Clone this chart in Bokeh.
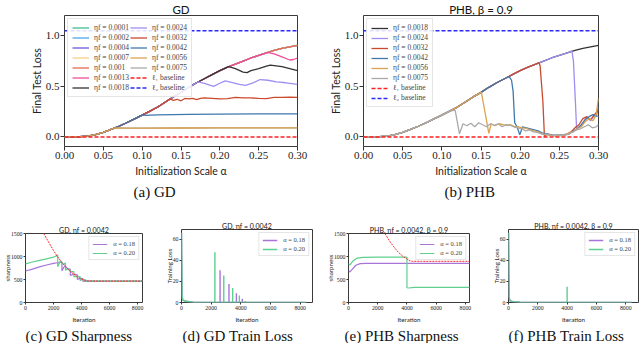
from bokeh.plotting import figure
from bokeh.layouts import column, row
from bokeh.models import Title, Legend, LegendItem, NumeralTickFormatter, Range1d, Spacer
from bokeh.embed import file_html
from bokeh.resources import INLINE

SERIF = "Liberation Serif"
SANS = "Lato"

# ---------------- data: final test loss vs initialization scale ----------------
env_alpha = [0.00, 0.01, 0.02, 0.03, 0.04, 0.05, 0.06, 0.07, 0.08, 0.09, 0.10,
             0.11, 0.12, 0.13, 0.14, 0.15, 0.16, 0.17, 0.18, 0.19, 0.20,
             0.21, 0.22, 0.23, 0.24, 0.25, 0.26, 0.27, 0.28, 0.29, 0.30]
env_loss = [0.0, 0.0, 0.002, 0.008, 0.022, 0.045, 0.075, 0.105, 0.14, 0.178, 0.215,
            0.255, 0.295, 0.345, 0.395, 0.44, 0.49, 0.535, 0.575, 0.615, 0.655,
            0.69, 0.72, 0.75, 0.78, 0.805, 0.83, 0.855, 0.875, 0.89, 0.905]

l1_baseline = 0.0
l2_baseline = 1.05

gd_etas = ["0.0001", "0.0002", "0.0004", "0.0007", "0.001", "0.0013",
           "0.0018", "0.0024", "0.0032", "0.0042", "0.0056", "0.0075"]
gd_tail_alpha = {
    "0.0013": [0.261, 0.27, 0.28, 0.29, 0.295, 0.30],
    "0.0018": [0.2115, 0.22, 0.23, 0.235, 0.24, 0.25, 0.26, 0.265, 0.27, 0.28, 0.29, 0.30],
    "0.0024": [0.172, 0.18, 0.192, 0.20, 0.207, 0.215, 0.225, 0.233, 0.243, 0.252, 0.262, 0.273, 0.285, 0.30],
    "0.0032": [0.1365, 0.14, 0.145, 0.15, 0.155, 0.16, 0.165, 0.17, 0.175, 0.18, 0.19, 0.20,
               0.21, 0.22, 0.23, 0.24, 0.25, 0.26, 0.27, 0.28, 0.29, 0.30],
    "0.0042": [0.101, 0.105, 0.11, 0.12, 0.14, 0.16, 0.20, 0.25, 0.30],
    "0.0056": [0.065, 0.08, 0.10, 0.15, 0.20, 0.25, 0.30],
    "0.0075": [0.065, 0.08, 0.10, 0.15, 0.20, 0.25, 0.30],
}
gd_tail_loss = {
    "0.0013": [0.835, 0.82, 0.79, 0.76, 0.765, 0.78],
    "0.0018": [0.695, 0.675, 0.64, 0.635, 0.655, 0.675, 0.70, 0.71, 0.705, 0.695, 0.675, 0.655],
    "0.0024": [0.545, 0.53, 0.50, 0.53, 0.554, 0.54, 0.52, 0.51, 0.535, 0.567, 0.56, 0.543, 0.535, 0.52],
    "0.0032": [0.378, 0.36, 0.372, 0.357, 0.38, 0.375, 0.38, 0.368, 0.38, 0.385, 0.38, 0.375,
               0.378, 0.39, 0.385, 0.385, 0.38, 0.378, 0.39, 0.39, 0.393, 0.39],
    "0.0042": [0.218, 0.212, 0.215, 0.217, 0.22, 0.223, 0.226, 0.228, 0.228],
    "0.0056": [0.088, 0.086, 0.087, 0.088, 0.089, 0.09, 0.09],
    "0.0075": [0.088, 0.086, 0.087, 0.088, 0.089, 0.09, 0.09],
}
eta_colors = {
    "0.0001": "#3dbd8f", "0.0002": "#4ea6e6", "0.0004": "#6e55e0", "0.0007": "#f7cf86",
    "0.001": "#e4694e", "0.0013": "#ee4f9b", "0.0018": "#333333", "0.0024": "#a08df0",
    "0.0032": "#cc4a2c", "0.0042": "#3e78ac", "0.0056": "#dca24f", "0.0075": "#aaaaaa",
}

phb_etas = ["0.0018", "0.0024", "0.0032", "0.0042", "0.0056", "0.0075"]
phb_tail_alpha = {
    "0.0018": [],
    "0.0024": [0.266, 0.268, 0.2705, 0.272, 0.276, 0.28, 0.285, 0.29, 0.295, 0.30],
    "0.0032": [0.224, 0.2255, 0.229, 0.231, 0.235, 0.24, 0.245, 0.25, 0.255, 0.26, 0.265,
               0.27, 0.275, 0.28, 0.285, 0.29, 0.295, 0.30],
    "0.0042": [0.186, 0.189, 0.191, 0.193, 0.196, 0.1995, 0.203, 0.208, 0.213, 0.218, 0.223,
               0.228, 0.233, 0.238, 0.243, 0.248, 0.253, 0.258, 0.263, 0.268, 0.273, 0.278,
               0.283, 0.288, 0.293, 0.297, 0.30],
    "0.0056": [0.1505, 0.155, 0.16, 0.163, 0.168, 0.173, 0.178, 0.183, 0.188, 0.193, 0.198,
               0.203, 0.208, 0.213, 0.218, 0.223, 0.228, 0.233, 0.238, 0.243, 0.248, 0.253,
               0.258, 0.263, 0.268, 0.273, 0.278, 0.283, 0.288, 0.293, 0.297, 0.30],
    "0.0075": [0.117, 0.1225, 0.127, 0.132, 0.137, 0.142, 0.147, 0.152, 0.157, 0.162, 0.167,
               0.172, 0.177, 0.182, 0.187, 0.192, 0.197, 0.202, 0.207, 0.212, 0.217, 0.222,
               0.227, 0.232, 0.237, 0.242, 0.247, 0.252, 0.257, 0.262, 0.267, 0.272, 0.277,
               0.282, 0.287, 0.292, 0.297, 0.30],
}
phb_tail_loss = {
    "0.0018": [],
    "0.0024": [0.85, 0.75, 0.35, 0.08, 0.10, 0.13, 0.20, 0.16, 0.22, 0.20],
    "0.0032": [0.735, 0.70, 0.35, 0.0, 0.03, 0.02, 0.01, 0.015, 0.02, 0.03, 0.05,
               0.09, 0.12, 0.18, 0.20, 0.17, 0.22, 0.27],
    "0.0042": [0.595, 0.56, 0.45, 0.14, 0.10, 0.02, 0.10, 0.09, 0.08, 0.07, 0.06,
               0.04, 0.03, 0.02, 0.015, 0.02, 0.015, 0.02, 0.03, 0.06, 0.08, 0.12,
               0.17, 0.20, 0.22, 0.20, 0.30],
    "0.0056": [0.44, 0.25, 0.035, 0.13, 0.11, 0.13, 0.12, 0.115, 0.12, 0.10, 0.10,
               0.09, 0.085, 0.07, 0.06, 0.05, 0.03, 0.02, 0.015, 0.01, 0.015, 0.01,
               0.02, 0.04, 0.05, 0.08, 0.10, 0.15, 0.18, 0.16, 0.22, 0.38],
    "0.0075": [0.265, 0.03, 0.13, 0.11, 0.135, 0.10, 0.14, 0.12, 0.10, 0.13, 0.115,
               0.13, 0.10, 0.12, 0.115, 0.10, 0.09, 0.08, 0.06, 0.07, 0.05, 0.045,
               0.03, 0.025, 0.02, 0.015, 0.02, 0.015, 0.02, 0.03, 0.05, 0.07, 0.08,
               0.10, 0.12, 0.09, 0.10, 0.12],
}

alpha_ticks = [0.0, 0.05, 0.10, 0.15, 0.20, 0.25, 0.30]
loss_ticks = [0.0, 0.5, 1.0]

# ---------------- data: sharpness / training loss vs iteration ----------------
iter_ticks = [0, 2000, 4000, 6000, 8000]
sharp_ticks = [0, 500, 1000, 1500]
train_ticks = [0, 20, 40, 60]
a_labels = ["α = 0.18", "α = 0.20"]
a_colors = ["#a874d8", "#5fcf8f"]

gd_sharp_red_iter = [1300, 1600, 2000, 2300, 2600, 2850, 3200, 3450, 3700, 3900, 4100, 4300,
                     4500, 5000, 6000, 7000, 8350]
gd_sharp_red = [1500, 1340, 1130, 990, 870, 785, 675, 615, 560, 525, 495, 475,
                466, 465, 465, 465, 465]
gd_sharp_a18_iter = [0, 500, 1000, 1500, 2000, 2400, 2600, 2600, 2800, 3000, 3200, 3200,
                     3450, 3700, 3700, 3900, 4100, 4100, 4300, 5000, 6000, 7000, 8350]
gd_sharp_a18 = [685, 725, 775, 815, 850, 870, 880, 690, 800, 735, 720, 590,
                615, 600, 500, 525, 520, 460, 470, 465, 465, 465, 465]
gd_sharp_a20_iter = [0, 500, 1000, 1500, 2000, 2300, 2300, 2500, 2700, 2850, 2850, 3000, 3200,
                     3450, 3450, 3700, 3900, 3900, 4100, 4300, 4300, 4500, 5000, 6000, 7000, 8350]
gd_sharp_a20 = [840, 880, 915, 950, 985, 1030, 780, 905, 830, 860, 700, 740, 680,
                670, 560, 565, 560, 480, 500, 495, 455, 466, 466, 466, 466, 466]

gd_loss_a18_iter = [0, 40, 100, 300, 800, 1000, 2600, 2600, 2600, 3200, 3200, 3200,
                    3700, 3700, 3700, 4100, 4100, 4100, 8400]
gd_loss_a18 = [66, 5, 2, 1.2, 0.3, 0, 0, 30.5, 0, 0, 17.5, 0, 0, 8.8, 0, 0, 3.6, 0, 0]
gd_loss_a20_iter = [0, 40, 100, 300, 800, 1000, 2250, 2250, 2250, 2850, 2850, 2850,
                    3450, 3450, 3450, 3900, 3900, 3900, 4300, 4300, 4300, 8400]
gd_loss_a20 = [66, 5, 2, 1.2, 0.3, 0, 0, 47.5, 0, 0, 25.5, 0, 0, 13.8, 0, 0, 6.5, 0,
               0, 1.4, 0, 0]

phb_sharp_red_iter = [2500, 2800, 3100, 3400, 3700, 4000, 4200, 4400, 5000, 6000, 7000, 8300]
phb_sharp_red = [1500, 1340, 1210, 1095, 1010, 945, 905, 895, 895, 895, 895, 895]
phb_sharp_a18_iter = [0, 100, 250, 500, 800, 1200, 2000, 4000, 6000, 8300]
phb_sharp_a18 = [690, 665, 720, 810, 845, 850, 850, 850, 850, 850]
phb_sharp_a20_iter = [0, 100, 300, 600, 1000, 2000, 3000, 4000, 4000, 4100, 4500, 5000,
                      6000, 7000, 8300]
phb_sharp_a20 = [835, 820, 900, 965, 980, 985, 985, 985, 320, 315, 330, 330, 330, 330, 330]

phb_loss_a18_iter = [0, 40, 100, 300, 800, 1000, 8400]
phb_loss_a18 = [66, 5, 1.5, 0.8, 0.2, 0, 0]
phb_loss_a20_iter = [0, 40, 100, 300, 800, 1000, 4000, 4000, 4000, 8400]
phb_loss_a20 = [66, 5, 1.5, 0.8, 0.2, 0, 0, 15, 0, 0]


def branch(tail_a, tail_l):
    if not tail_a:
        return list(env_alpha), list(env_loss)
    keep = [i for i, a in enumerate(env_alpha) if a < tail_a[0] - 1e-9]
    return [env_alpha[i] for i in keep] + list(tail_a), [env_loss[i] for i in keep] + list(tail_l)


def style(p, tick_size, label_size, tick_len, title_size, title_standoff, xlab_standoff, ylab_standoff):
    p.outline_line_color = "#3a3a3a"
    p.outline_line_width = 1
    p.xgrid.visible = False
    p.ygrid.visible = False
    p.title.align = "center"
    p.title.text_font = SANS
    p.title.text_font_style = "normal"
    p.title.text_font_size = title_size
    p.title.text_color = "#111111"
    p.title.standoff = title_standoff
    for ax in (p.xaxis[0], p.yaxis[0]):
        ax.axis_line_color = None
        ax.major_tick_in = 0
        ax.major_tick_out = tick_len
        ax.major_tick_line_color = "#333333"
        ax.minor_tick_line_color = None
        ax.major_label_text_font = SERIF
        ax.major_label_text_font_size = tick_size
        ax.major_label_text_color = "#222222"
        ax.major_label_standoff = 1
        ax.axis_label_text_font = SANS
        ax.axis_label_text_font_size = label_size
        ax.axis_label_text_font_style = "normal"
        ax.axis_label_text_color = "#222222"
    p.xaxis[0].axis_label_standoff = xlab_standoff
    p.yaxis[0].axis_label_standoff = ylab_standoff


def caption(p, text, size, offset, standoff):
    p.add_layout(Title(text=text, align="left", offset=offset, standoff=standoff,
                       text_font=SERIF, text_font_size=size, text_font_style="normal",
                       text_color="#111111"), "below")


def top_figure(title, width, border_left, border_right):
    p = figure(width=width, height=201, title=title, output_backend="svg", toolbar_location=None,
               x_range=Range1d(0.0, 0.30), y_range=Range1d(-0.095, 1.2),
               min_border_left=border_left, min_border_right=border_right,
               min_border_top=0, min_border_bottom=0)
    style(p, "11px", "10.5px", 4, "11.5px", 0, 3, 0)
    p.xaxis.ticker = alpha_ticks
    p.yaxis.ticker = loss_ticks
    p.xaxis.formatter = NumeralTickFormatter(format="0.00")
    p.yaxis.formatter = NumeralTickFormatter(format="0.0")
    p.xaxis.axis_label = "Initialization Scale α"
    p.yaxis.axis_label = "Final Test Loss"
    return p


def baselines(p):
    r1 = p.line(env_alpha, [l1_baseline] * len(env_alpha), color="#ff2020", line_width=1.5, line_dash="4 2")
    r2 = p.line(env_alpha, [l2_baseline] * len(env_alpha), color="#2a2aff", line_width=1.5, line_dash="4 2")
    return [LegendItem(label="ℓ₁ baseline", renderers=[r1]), LegendItem(label="ℓ₂ baseline", renderers=[r2])]


def style_legend(leg, size, glyph_w, row_h):
    leg.label_text_font = SERIF
    leg.label_text_font_size = size
    leg.glyph_width = glyph_w
    leg.glyph_height = row_h
    leg.label_height = row_h
    leg.spacing = 1
    leg.padding = 4
    leg.margin = 3
    leg.label_standoff = 5
    leg.border_line_color = "#cccccc"
    leg.border_line_width = 1
    leg.background_fill_alpha = 0.85


# ---------------- (a) GD ----------------
pa = top_figure("GD", 293, 31, 23)
renderers = {}
draw_order = ["0.0075"] + gd_etas[:-1]
for eta in draw_order:
    xs, ys = branch(gd_tail_alpha.get(eta, []), gd_tail_loss.get(eta, []))
    renderers[eta] = pa.line(xs, ys, color=eta_colors[eta], line_width=1.3)
items = [LegendItem(label=f"ηf = {eta}", renderers=[renderers[eta]]) for eta in gd_etas]
items += baselines(pa)
leg_a = Legend(items=items, location="top_left", ncols=2)
style_legend(leg_a, "7.5px", 17, 9)
pa.add_layout(leg_a)
caption(pa, "(a) GD", "15px", 69, 4)

# ---------------- (b) PHB ----------------
pb = top_figure("PHB, β = 0.9", 314, 31, 42)
rb = {}
for eta in phb_etas:
    xs, ys = branch(phb_tail_alpha[eta], phb_tail_loss[eta])
    rb[eta] = pb.line(xs, ys, color=eta_colors[eta], line_width=1.3)
items = [LegendItem(label=f"ηf = {eta}", renderers=[rb[eta]]) for eta in phb_etas]
items += baselines(pb)
leg_b = Legend(items=items, location="top_left")
style_legend(leg_b, "7.5px", 17, 8)
pb.add_layout(leg_b)
caption(pb, "(b) PHB", "15px", 81, 4)


# ---------------- bottom row ----------------
def small_figure(title, width, height, yr, xr, left, right, frame_ticks, ylabel):
    p = figure(width=width, height=height, title=title, output_backend="svg", toolbar_location=None,
               x_range=Range1d(0, xr), y_range=Range1d(0, yr),
               min_border_left=left, min_border_right=right,
               min_border_top=0, min_border_bottom=0)
    style(p, "5.8px", "6.2px", 2, "7px", 0, 3, -3)
    p.xaxis.ticker = iter_ticks
    p.yaxis.ticker = frame_ticks
    p.xaxis.axis_label = "Iteration"
    p.yaxis.axis_label = ylabel
    return p


def small_legend(p, rs):
    leg = Legend(items=[LegendItem(label=a_labels[i], renderers=[rs[i]]) for i in range(2)],
                 location="top_right")
    style_legend(leg, "6.5px", 15, 6)
    leg.padding = 3
    leg.spacing = 2
    leg.label_standoff = 6
    p.add_layout(leg)


pc = small_figure("GD, ηf = 0.0042", 162, 120, 1500, 8350, 21, 20, sharp_ticks, "sharpness")
r18 = pc.line(gd_sharp_a18_iter, gd_sharp_a18, color=a_colors[0], line_width=1.2)
r20 = pc.line(gd_sharp_a20_iter, gd_sharp_a20, color=a_colors[1], line_width=1.2)
pc.line(gd_sharp_red_iter, gd_sharp_red, color="#ff2a2a", line_width=1, line_dash="2 1")
small_legend(pc, [r18, r20])
caption(pc, "(c) GD Sharpness", "15px", 0, 0)

pd_ = small_figure("GD, ηf = 0.0042", 161, 124, 69, 8830, 16, 11, train_ticks, "Training Loss")
r18 = pd_.line(gd_loss_a18_iter, gd_loss_a18, color=a_colors[0], line_width=1.4)
r20 = pd_.line(gd_loss_a20_iter, gd_loss_a20, color=a_colors[1], line_width=1.4)
small_legend(pd_, [r18, r20])
caption(pd_, "(d) GD Train Loss", "15px", 1, 0)

pe = small_figure("PHB, ηf = 0.0042, β = 0.9", 166, 120, 1500, 8280, 22, 20, sharp_ticks, "sharpness")
r18 = pe.line(phb_sharp_a18_iter, phb_sharp_a18, color=a_colors[0], line_width=1.2)
r20 = pe.line(phb_sharp_a20_iter, phb_sharp_a20, color=a_colors[1], line_width=1.2)
pe.line(phb_sharp_red_iter, phb_sharp_red, color="#ff2a2a", line_width=1, line_dash="2 1")
small_legend(pe, [r18, r20])
caption(pe, "(e) PHB Sharpness", "15px", -4, 0)

pf = small_figure("PHB, ηf = 0.0042, β = 0.9", 151, 124, 69, 8870, 16, 2, train_ticks, "Training Loss")
r18 = pf.line(phb_loss_a18_iter, phb_loss_a18, color=a_colors[0], line_width=1.4)
r20 = pf.line(phb_loss_a20_iter, phb_loss_a20, color=a_colors[1], line_width=1.4)
small_legend(pf, [r18, r20])
caption(pf, "(f) PHB Train Loss", "15px", 0, 0)

layout = column(
    row(Spacer(width=27, height=201), pa, Spacer(width=6, height=201), pb),
    Spacer(width=640, height=18),
    row(column(Spacer(width=162, height=4), pc), pd_,
        column(Spacer(width=166, height=4), pe), pf),
)
open("out.html", "w").write(file_html(layout, INLINE))
